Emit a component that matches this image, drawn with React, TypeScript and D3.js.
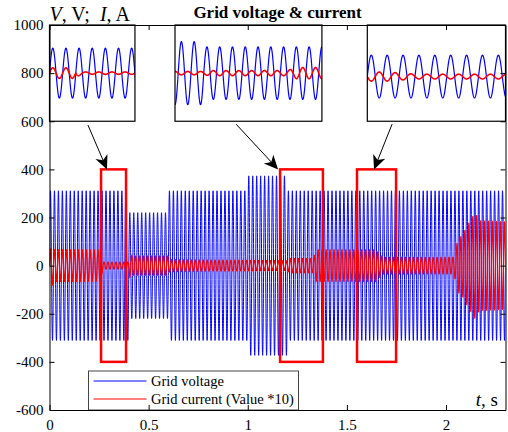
import React, { useEffect, useMemo, useRef } from 'react';
import * as d3 from 'd3';

// ---------- data ----------
const xTicks = [0, 0.5, 1, 1.5, 2];
const yTicks = [-600, -400, -200, 0, 200, 400, 600, 800, 1000];
const xDomain = [0, 2.3];
const yDomain = [-600, 1000];

const gridFrequency = 50; // Hz
const sampleRate = 5000; // samples per second

// piecewise-constant voltage amplitude (V)
const voltageBreaks = [0, 0.4, 0.6, 1.0, 1.2, 2.3];
const voltageAmps = [311, 220, 311, 373, 311];

// current (value * 10) envelope
const currentKnotT = [0, 0.008, 0.025, 0.255, 0.27, 0.4, 0.405, 0.42, 0.6, 0.605, 1.0, 1.2, 1.21, 1.33, 1.345, 1.645, 1.68, 2.04, 2.06, 2.08, 2.107, 2.147, 2.17, 2.3];
const currentKnotA = [20, 90, 66, 66, 15, 15, 48, 40, 40, 25, 22, 20, 30, 30, 66, 66, 35, 35, 110, 123, 165, 220, 185, 180];
const currentPhaseBreaks = [0, 0.26, 2.3];
const currentPhases = [0, Math.PI];

// highlighted windows (red boxes)
const boxStart = [0.26, 1.163, 1.551];
const boxEnd = [0.386, 1.379, 1.748];
const boxLow = -400;
const boxHigh = 400;

// zoom insets
const insetX0 = [0, 0.633, 1.603];
const insetX1 = [0.431, 1.374, 2.3];
const insetYLow = 600;
const insetYHigh = 1000;
const insetT0 = [0.22, 1.155, 1.62];
const insetT1 = [0.35, 1.385, 1.794];
const insetVMin = [-600, -570, -650];
const insetVMax = [600, 570, 750];

// arrows from insets to boxes
const arrowFromX = [0.194, 0.941, 1.728];
const arrowFromY = [584, 588, 588];
const arrowToX = [0.29, 1.153, 1.637];
const arrowToY = [400, 400, 400];

const legendLabels = ['Grid voltage', 'Grid current (Value *10)'];
const seriesColors = ['#0000ff', '#ff0000'];

// ---------- layout ----------
const W = 508;
const H = 432;
const PL = 49.5;
const PR = 505.5;
const PT = 25;
const PB = 410;
const FONT = "'Liberation Serif', 'Times New Roman', Times, serif";

function segValue(breaks: number[], vals: number[], t: number) {
  for (let i = 0; i < vals.length; i++) {
    if (t < breaks[i + 1]) return vals[i];
  }
  return vals[vals.length - 1];
}

export default function App() {
  const leftRef = useRef<SVGGElement>(null);
  const rightRef = useRef<SVGGElement>(null);
  const topRef = useRef<SVGGElement>(null);
  const bottomRef = useRef<SVGGElement>(null);

  const x = useMemo(() => d3.scaleLinear().domain(xDomain).range([PL, PR]), []);
  const y = useMemo(() => d3.scaleLinear().domain(yDomain).range([PB, PT]), []);

  const samples = useMemo(() => {
    const env = d3.scaleLinear().domain(currentKnotT).range(currentKnotA);
    const n = Math.round((xDomain[1] - xDomain[0]) * sampleRate);
    const out: { t: number; v: number; i: number }[] = [];
    for (let k = 0; k <= n; k++) {
      const t = xDomain[0] + k / sampleRate;
      const w = 2 * Math.PI * gridFrequency * t;
      const v = segValue(voltageBreaks, voltageAmps, t) * Math.sin(w);
      const i = env(t) * Math.sin(w + segValue(currentPhaseBreaks, currentPhases, t));
      out.push({ t, v, i });
    }
    return out;
  }, []);

  const vLine = d3.line<{ t: number; v: number; i: number }>().x((d) => x(d.t)).y((d) => y(d.v));
  const iLine = d3.line<{ t: number; v: number; i: number }>().x((d) => x(d.t)).y((d) => y(d.i));

  useEffect(() => {
    const fmt = (d: any) => String(d);
    const style = (g: any) => {
      g.attr('font-family', null).attr('font-size', null);
      g.style('font-family', FONT).style('font-size', '15px');
      g.selectAll('path.domain').attr('stroke', '#000').attr('stroke-width', 1);
      g.selectAll('line').attr('stroke', '#000').attr('stroke-width', 1);
      g.selectAll('text').attr('fill', '#000').style('font-family', FONT).style('font-size', '15px');
    };
    d3.select(leftRef.current!).call(
      d3.axisLeft(y).tickValues(yTicks).tickSizeInner(-5).tickSizeOuter(0).tickPadding(6).tickFormat(fmt) as any
    ).call(style);
    d3.select(bottomRef.current!).call(
      d3.axisBottom(x).tickValues(xTicks).tickSizeInner(-5).tickSizeOuter(0).tickPadding(9).tickFormat(fmt) as any
    ).call(style);
    d3.select(rightRef.current!).call(
      d3.axisRight(y).tickValues(yTicks).tickSizeInner(-5).tickSizeOuter(0).tickFormat(() => '') as any
    ).call(style);
    d3.select(topRef.current!).call(
      d3.axisTop(x).tickValues(xTicks).tickSizeInner(-5).tickSizeOuter(0).tickFormat(() => '') as any
    ).call(style);
  }, [x, y]);

  const insets = insetX0.map((_, k) => {
    const ix = d3.scaleLinear().domain([insetT0[k], insetT1[k]]).range([x(insetX0[k]), x(insetX1[k])]);
    const iy = d3.scaleLinear().domain([insetVMin[k], insetVMax[k]]).range([y(insetYLow), y(insetYHigh)]);
    const win = samples.filter((d) => d.t >= insetT0[k] - 0.001 && d.t <= insetT1[k] + 0.001);
    const lv = d3.line<any>().x((d) => ix(d.t)).y((d) => iy(d.v))(win) || '';
    const li = d3.line<any>().x((d) => ix(d.t)).y((d) => iy(d.i))(win) || '';
    return { k, x0: x(insetX0[k]), x1: x(insetX1[k]), y0: y(insetYHigh), y1: y(insetYLow), lv, li };
  });

  const arrows = arrowFromX.map((_, k) => {
    const x0 = x(arrowFromX[k]);
    const y0 = y(arrowFromY[k]);
    const x1 = x(arrowToX[k]);
    const y1 = y(arrowToY[k]);
    const ang = Math.atan2(y1 - y0, x1 - x0);
    const len = 14;
    const half = 6.5;
    const notch = 4;
    const ux = Math.cos(ang);
    const uy = Math.sin(ang);
    const px = -uy;
    const py = ux;
    const bx = x1 - ux * len;
    const by = y1 - uy * len;
    const nx = x1 - ux * (len - notch);
    const ny = y1 - uy * (len - notch);
    const head = [
      [x1, y1],
      [bx + px * half, by + py * half],
      [nx, ny],
      [bx - px * half, by - py * half],
    ];
    return { k, x0, y0, nx, ny, head: head.map((p) => p.join(',')).join(' ') };
  });

  const textStyle = (size: number, extra: any = {}) => ({ fontFamily: FONT, fontSize: `${size}px`, whiteSpace: 'pre' as const, ...extra });

  return (
    <svg width={W} height={H} style={{ position: 'absolute', left: 0, top: 0, background: '#fff' }}>
      <defs>
        <clipPath id="plotClip">
          <rect x={PL} y={PT} width={PR - PL} height={PB - PT} />
        </clipPath>
        {insets.map((s) => (
          <clipPath id={`insetClip${s.k}`} key={s.k}>
            <rect x={s.x0} y={s.y0} width={s.x1 - s.x0} height={s.y1 - s.y0} />
          </clipPath>
        ))}
      </defs>
      <rect x={0} y={0} width={W} height={H} fill="#fff" />

      <g clipPath="url(#plotClip)">
        <path d={vLine(samples) || ''} fill="none" stroke={seriesColors[0]} strokeWidth={1} />
        <path d={iLine(samples) || ''} fill="none" stroke={seriesColors[1]} strokeWidth={1.2} />
      </g>

      {boxStart.map((b, k) => (
        <rect
          key={k}
          x={x(b)}
          y={y(boxHigh)}
          width={x(boxEnd[k]) - x(b)}
          height={y(boxLow) - y(boxHigh)}
          fill="none"
          stroke="#ff0000"
          strokeWidth={2.5}
        />
      ))}

      {arrows.map((a) => (
        <g key={a.k}>
          <line x1={a.x0} y1={a.y0} x2={a.nx} y2={a.ny} stroke="#000" strokeWidth={1} />
          <polygon points={a.head} fill="#000" />
        </g>
      ))}

      {insets.map((s) => (
        <g key={s.k}>
          <rect x={s.x0} y={s.y0} width={s.x1 - s.x0} height={s.y1 - s.y0} fill="#fff" />
          <g clipPath={`url(#insetClip${s.k})`}>
            <path d={s.lv} fill="none" stroke={seriesColors[0]} strokeWidth={1.2} />
            <path d={s.li} fill="none" stroke={seriesColors[1]} strokeWidth={1.6} />
          </g>
          <rect x={s.x0} y={s.y0} width={s.x1 - s.x0} height={s.y1 - s.y0} fill="none" stroke="#000" strokeWidth={1.2} />
        </g>
      ))}

      {/* legend */}
      <g>
        <rect x={88.5} y={371} width={210} height={39} fill="#fff" stroke="#444" strokeWidth={1} />
        {legendLabels.map((lab, k) => (
          <g key={k}>
            <line
              x1={93.5}
              x2={146.5}
              y1={381 + k * 18}
              y2={381 + k * 18}
              style={{ stroke: seriesColors[k], strokeWidth: 1 }}
            />
            <text x={151} y={386 + k * 18} fill="#000" style={textStyle(14.5)}>
              {lab}
            </text>
          </g>
        ))}
      </g>

      <g ref={leftRef} transform={`translate(${PL},0)`} />
      <g ref={rightRef} transform={`translate(${PR},0)`} />
      <g ref={topRef} transform={`translate(0,${PT})`} />
      <g ref={bottomRef} transform={`translate(0,${PB})`} />

      <text x={(PL + PR) / 2} y={18} textAnchor="middle" fill="#000" style={textStyle(17, { fontWeight: 'bold' })}>
        Grid voltage &amp; current
      </text>
      <text x={PL} y={21} fill="#000" style={textStyle(20)}>
        <tspan fontStyle="italic">V</tspan>
        <tspan>, V;  </tspan>
        <tspan fontStyle="italic">I</tspan>
        <tspan>, A</tspan>
      </text>
      <text x={498} y={406} textAnchor="end" fill="#000" style={textStyle(19)}>
        <tspan fontStyle="italic">t</tspan>
        <tspan>, s</tspan>
      </text>
    </svg>
  );
}
